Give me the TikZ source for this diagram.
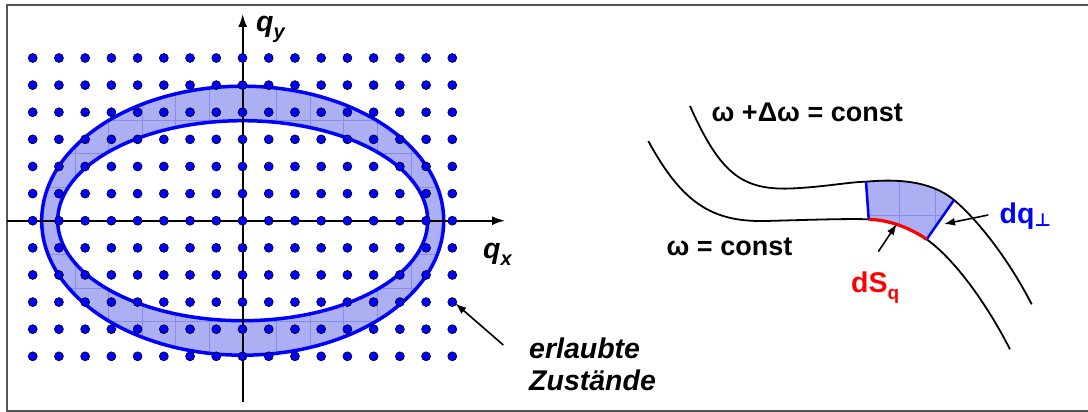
\documentclass[tikz,border=0pt]{standalone}
\usepackage{fontspec}
\setmainfont{Liberation Sans}
\newfontfamily\djv{DejaVu Sans}
\usetikzlibrary{arrows.meta}
\definecolor{bandfill}{RGB}{172,176,242}
\definecolor{gridblue}{RGB}{135,140,232}
\definecolor{framegray}{RGB}{85,85,85}
\definecolor{pblue}{RGB}{0,0,255}
\definecolor{pred}{RGB}{255,0,0}
\tikzset{
  dot/.style={fill=pblue,draw=black,line width=0.6pt},
  axis/.style={line width=1.8pt,-{Latex[length=13pt,width=9pt]}},
  ring/.style={draw=pblue,line width=3.5pt},
  gridline/.style={draw=gridblue,line width=0.4pt},
  curve/.style={line width=1.8pt,black},
  note/.style={line width=1.6pt,-{Latex[length=11pt,width=8pt]}},
  lbl/.style={inner sep=0pt,anchor=base west,font=\bfseries\fontsize{27}{29}\selectfont},
  ilbl/.style={inner sep=0pt,anchor=base west,font=\bfseries\itshape\fontsize{28.5}{32}\selectfont},
}
\begin{document}
\begin{tikzpicture}[x=1pt,y=-1pt]
\useasboundingbox (0,0) rectangle (1088,412);
% frame
\draw[framegray,line width=1.5pt] (1090,5) -- (7,5) -- (7,411) -- (1090,411);
% ---------- left part ----------
\coordinate (c) at (242.7,220.7);
\fill[bandfill,even odd rule] (c) ellipse[x radius=201pt,y radius=134.5pt]
      (c) ellipse[x radius=185pt,y radius=100pt];
\begin{scope}[even odd rule]
  \clip (c) ellipse[x radius=201pt,y radius=134.5pt]
      (c) ellipse[x radius=185pt,y radius=100pt];
  \begin{scope}[shift={(c)}]
    \draw[gridline,step=33.6pt] (-235,-170) grid (235,170);
  \end{scope}
\end{scope}
\draw[ring] (c) ellipse[x radius=201pt,y radius=134.5pt];
\draw[ring] (c) ellipse[x radius=185pt,y radius=100pt];
% axes
\coordinate (xl) at (7,220.7);
\coordinate (xr) at (505,220.7);
\coordinate (yb) at (242.7,401.7);
\coordinate (yt) at (242.7,14);
\draw[axis] (xl) -- (xr);
\draw[axis] (yb) -- (yt);
% dots
\foreach \i in {0,...,16}{
  \foreach \j in {0,...,11}{
    \filldraw[dot] ({32.7+26.225*\i},{58+27.12*\j}) circle[radius=4.5pt];
  }
}
% axis labels
\node[ilbl] (qy) at (256,31.7) {q\raisebox{-7pt}{\fontsize{20}{20}\selectfont y}};
\node[ilbl] (qx) at (483,258.5) {q\raisebox{-7pt}{\fontsize{20}{20}\selectfont x}};
% annotation
\node[ilbl] (erl) at (529,358) {erlaubte};
\node[ilbl] (zus) at (529,390) {Zustände};
\coordinate (erlStart) at (503.3,345);
\coordinate (erlTip) at (455.5,303.5);
\draw[note] (erlStart) -- (erlTip);
% ---------- right part ----------
% shaded element
\path[fill=bandfill] (866,181.7) .. controls (895,179) and (930,180) .. (954,200)
   -- (926.7,239.3) .. controls (910,228) and (890,220) .. (868.7,219.3) -- cycle;
\begin{scope}
  \clip (866,181.7) .. controls (895,179) and (930,180) .. (954,200)
   -- (926.7,239.3) .. controls (910,228) and (890,220) .. (868.7,219.3) -- cycle;
  \begin{scope}[shift={(899,215)}]
    \draw[gridline,step=36pt] (-72,-72) grid (72,72);
  \end{scope}
\end{scope}
% upper curve
\draw[curve] (690,106) .. controls (722,178) and (745,192) .. (800,188)
   .. controls (830,186) and (850,182) .. (866,181.7)
   .. controls (895,179) and (930,180) .. (954,200)
   .. controls (980,222) and (1010,262) .. (1031.7,304.3);
% lower curve
\draw[curve] (648.3,141) .. controls (682,203) and (712,222) .. (765,221)
   .. controls (805,220) and (845,218.5) .. (868.7,219.3)
   .. controls (890,220) and (910,228) .. (926.7,239.3)
   .. controls (958,262) and (990,310) .. (1010,349.3);
% edges of element
\draw[pblue,line width=2.5pt] (866,181.7) -- (868.7,219.3);
\draw[pblue,line width=2.5pt] (954,200) -- (926.7,239.3);
\draw[pred,line width=3.2pt] (868.7,219.3) .. controls (890,220) and (910,228) .. (926.7,239.3);
% labels
\node[lbl] (wdw) at (711.5,121.7) {ω +Δω = const};
\node[lbl] (w) at (666.5,255.7) {ω = const};
\node[lbl,text=pred,font=\bfseries\fontsize{28.5}{30}\selectfont] (ds) at (851,292.5) {dS\raisebox{-7pt}{\fontsize{19}{19}\selectfont q}};
\node[lbl,text=pblue,font=\bfseries\fontsize{28.5}{30}\selectfont] (dq) at (999.5,223.3) {dq\raisebox{-3pt}{\fontsize{18}{18}\selectfont\djv\bfseries ⊥}};
\coordinate (dsStart) at (878.3,251.7);
\coordinate (dsTip) at (896.7,224);
\draw[note] (dsStart) -- (dsTip);
\coordinate (dqStart) at (988.3,215);
\coordinate (dqTip) at (944,224);
\draw[note] (dqStart) -- (dqTip);
\end{tikzpicture}
\end{document}
